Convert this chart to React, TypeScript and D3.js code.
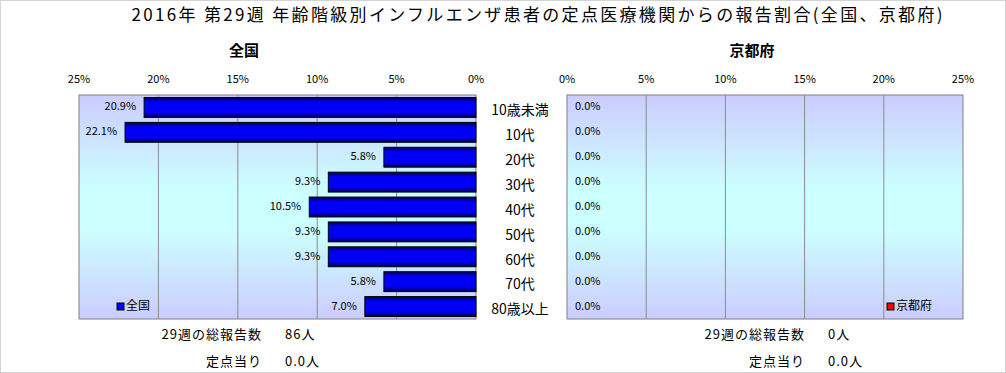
import React from "react";
import * as d3 from "d3";

const title = "2016年 第29週 年齢階級別インフルエンザ患者の定点医療機関からの報告割合(全国、京都府)";
const categories = ["10歳未満", "10代", "20代", "30代", "40代", "50代", "60代", "70代", "80歳以上"];
const nationalValues = [20.9, 22.1, 5.8, 9.3, 10.5, 9.3, 9.3, 5.8, 7.0];
const kyotoValues = [0, 0, 0, 0, 0, 0, 0, 0, 0];
const ticks = [0, 5, 10, 15, 20, 25];
const nationalSummary = { total: "86人", perSite: "0.0人" };
const kyotoSummary = { total: "0人", perSite: "0.0人" };

const W = 1006;
const H = 373;
const FONT = "'Noto Sans CJK JP', 'Noto Sans', sans-serif";
const top = 95;
const bottom = 319;

const App: React.FC = () => {
  // scales for both panels
  const xLeft = d3.scaleLinear().domain([0, 25]).range([476, 79]);
  const xRight = d3.scaleLinear().domain([0, 25]).range([567, 963]);
  const y = d3
    .scaleBand<string>()
    .domain(categories)
    .range([top, bottom])
    .paddingInner(0.2)
    .paddingOuter(0.1);
  const bw = y.bandwidth();

  const panel = (
    x: d3.ScaleLinear<number, number>,
    values: number[],
    side: "left" | "right",
    legend: string,
    legendColor: string,
    legendX: number
  ) => {
    const [r0, r1] = x.range();
    const px = Math.min(r0, r1);
    const pw = Math.abs(r1 - r0);
    return (
      <g>
        <rect x={px} y={top} width={pw} height={bottom - top} fill="url(#bg)" />
        {ticks
          .filter((t) => t > 0 && t < 25)
          .map((t) => (
            <line key={t} x1={x(t)} x2={x(t)} y1={top} y2={bottom} stroke="#8c8c8c" />
          ))}
        <rect x={px} y={top} width={pw} height={bottom - top} fill="none" stroke="#808080" />
        {ticks.map((t) => (
          <text
            key={t}
            x={x(t)}
            y={80}
            textAnchor="middle"
            dominantBaseline="middle"
            fontSize={11}
            fontFamily={FONT}
          >
            {t}%
          </text>
        ))}
        {values.map((v, i) => {
          const y0 = y(categories[i])!;
          const x0 = x(0);
          const x1 = x(v);
          return (
            <g key={i}>
              {v > 0 && (
                <rect
                  x={Math.min(x0, x1)}
                  y={y0}
                  width={Math.abs(x1 - x0)}
                  height={bw}
                  fill="url(#barGrad)"
                  stroke="#000"
                />
              )}
              <text
                x={side === "left" ? x1 - 8 : x1 + 8}
                y={y0 + bw / 2}
                textAnchor={side === "left" ? "end" : "start"}
                dominantBaseline="middle"
                fontSize={11}
                fontFamily={FONT}
              >
                {v.toFixed(1)}%
              </text>
            </g>
          );
        })}
        <rect x={legendX} y={303} width={7} height={7} fill={legendColor} stroke="#000" />
        <text x={legendX + 9} y={307} dominantBaseline="middle" fontSize={12} fontFamily={FONT}>
          {legend}
        </text>
      </g>
    );
  };

  const summary = (right: number, s: { total: string; perSite: string }) => (
    <g fontSize={13} fontFamily={FONT}>
      <text x={right} y={335} textAnchor="end" dominantBaseline="middle" letterSpacing={1}>
        29週の総報告数
      </text>
      <text x={right + 23} y={335} dominantBaseline="middle" letterSpacing={1}>
        {s.total}
      </text>
      <text x={right} y={362} textAnchor="end" dominantBaseline="middle" letterSpacing={1}>
        定点当り
      </text>
      <text x={right + 23} y={362} dominantBaseline="middle" letterSpacing={1}>
        {s.perSite}
      </text>
    </g>
  );

  return (
    <>
      <style>{"body{margin:0}"}</style>
      <svg width={W} height={H} style={{ display: "block" }}>
        <defs>
          <linearGradient id="bg" x1="0" y1="0" x2="0" y2="1">
            <stop offset="0" stopColor="#ccccff" />
            <stop offset="0.42" stopColor="#ccffff" />
            <stop offset="0.6" stopColor="#ccffff" />
            <stop offset="1" stopColor="#ccccff" />
          </linearGradient>
          <linearGradient id="barGrad" x1="0" y1="0" x2="0" y2="1">
            <stop offset="0" stopColor="#000050" />
            <stop offset="0.25" stopColor="#0000f8" />
            <stop offset="0.75" stopColor="#0000f8" />
            <stop offset="1" stopColor="#000050" />
          </linearGradient>
        </defs>
        <rect x={0.5} y={0.5} width={W - 1} height={H - 1} fill="#fff" stroke="#d4d4d4" />
        <text
          x={537}
          y={16}
          textAnchor="middle"
          dominantBaseline="middle"
          fontSize={17}
          fontFamily={FONT}
          textLength={811}
          lengthAdjust="spacing"
        >
          {title}
        </text>
        <text x={244} y={52} textAnchor="middle" dominantBaseline="middle" fontSize={15} fontWeight="bold" fontFamily={FONT}>
          全国
        </text>
        <text x={752} y={52} textAnchor="middle" dominantBaseline="middle" fontSize={15} fontWeight="bold" fontFamily={FONT}>
          京都府
        </text>
        {panel(xLeft, nationalValues, "left", "全国", "#0000ff", 117)}
        {panel(xRight, kyotoValues, "right", "京都府", "#ff0000", 887)}
        {categories.map((c) => (
          <text
            key={c}
            x={520}
            y={y(c)! + bw / 2 + 4}
            textAnchor="middle"
            dominantBaseline="middle"
            fontSize={14}
            fontFamily={FONT}
          >
            {c}
          </text>
        ))}
        {summary(262, nationalSummary)}
        {summary(805, kyotoSummary)}
      </svg>
    </>
  );
};

export default App;
